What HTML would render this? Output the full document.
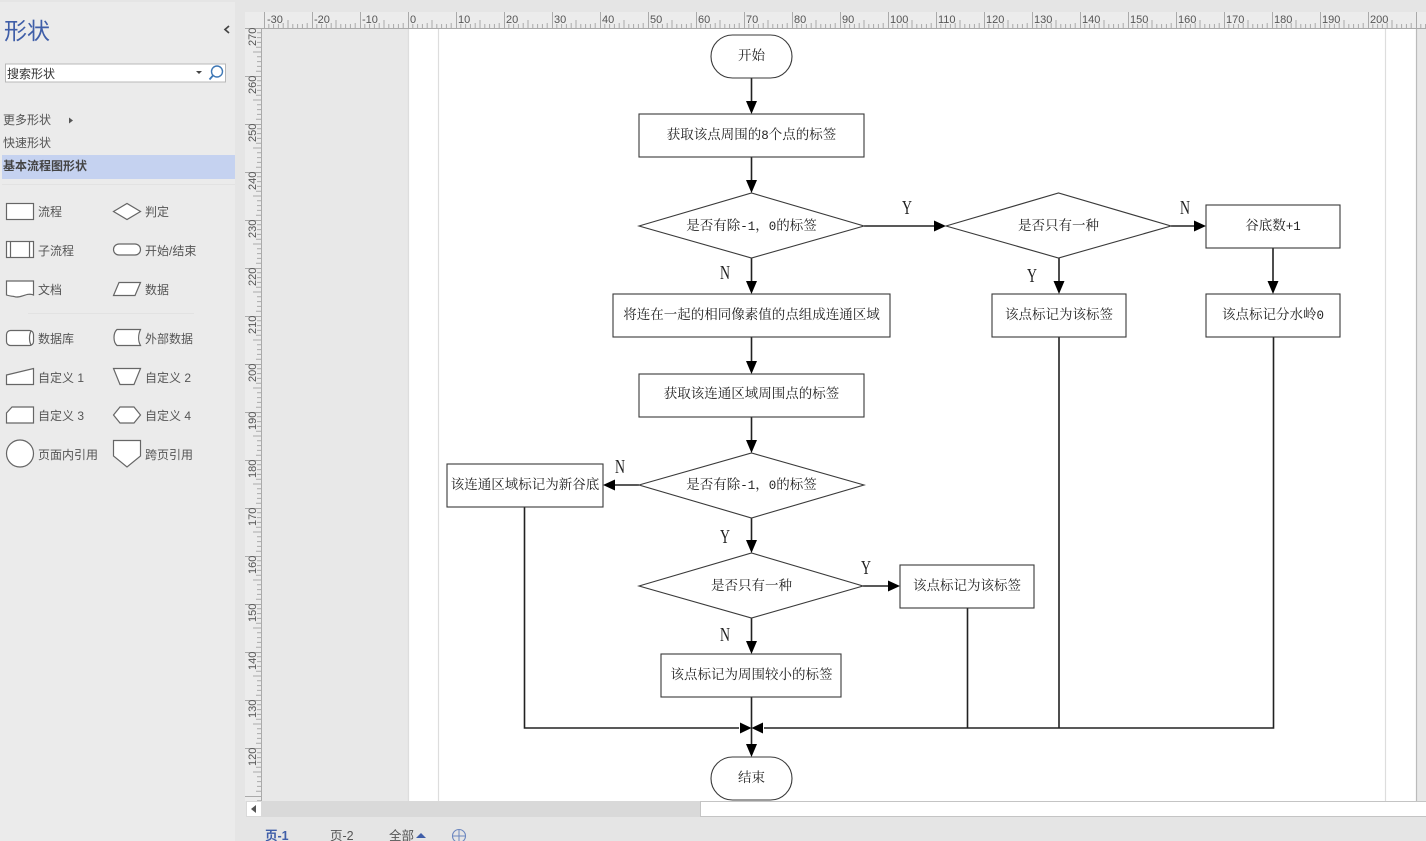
<!DOCTYPE html>
<html><head><meta charset="utf-8">
<style>
html,body{margin:0;padding:0;background:#e6e6e6;width:1426px;height:841px;overflow:hidden}
svg{display:block;filter:blur(0.3px)}
.d text{font-family:"Liberation Serif","Noto Serif CJK SC",serif;font-size:13.5px;fill:#222;text-anchor:middle}
.d text.l{font-size:20px;font-family:"Liberation Serif",serif;fill:#222}
.d tspan{font-family:"Liberation Mono",monospace;font-size:12.5px}
.s{fill:#fff;stroke:#3a3a3a;stroke-width:1.1}
.c{fill:none;stroke:#222;stroke-width:1.6}
.a{fill:#000}
.ui text{font-family:"Liberation Sans","Noto Sans CJK SC",sans-serif;font-size:12px;fill:#555}
.ic{fill:#fff;stroke:#666;stroke-width:1.2}
.rh text{font-family:"Liberation Sans",sans-serif;font-size:11px;fill:#555}
</style></head>
<body>
<svg width="1426" height="841" viewBox="0 0 1426 841" xmlns="http://www.w3.org/2000/svg">
<defs>
<pattern id="hr" x="264" y="12" width="48" height="16" patternUnits="userSpaceOnUse">
<path d="M0.5 0V16M4.8 12V16M9.6 12V16M14.4 12V16M19.2 11V16M24 8V16M28.8 12V16M33.6 12V16M38.4 12V16M43.2 11V16" stroke="#aaa" stroke-width="1" fill="none"/>
</pattern>
<pattern id="vr" x="245" y="28" width="16" height="48" patternUnits="userSpaceOnUse">
<path d="M0 0.5H16M12 4.8H16M12 9.6H16M12 14.4H16M11 19.2H16M8 24H16M12 28.8H16M12 33.6H16M12 38.4H16M11 43.2H16" stroke="#aaa" stroke-width="1" fill="none"/>
</pattern>
</defs>

<!-- backgrounds -->
<rect width="1426" height="841" fill="#e5e5e5"/>
<rect x="0" y="2" width="235" height="839" fill="#ebebeb"/>
<rect x="262" y="28" width="146" height="773" fill="#e8e8e8"/>
<rect x="408" y="28" width="1008" height="773" fill="#fff"/>
<rect x="1416" y="28" width="10" height="773" fill="#e8e8e8"/>
<path d="M408.500 28V801M438.500 28V801M1385.500 28V801" stroke="#ddd" stroke-width="1.2"/>
<path d="M1416.500 28V801" stroke="#bbb" stroke-width="1.2"/>

<!-- rulers -->
<rect x="245" y="12" width="1181" height="16" fill="#ececec"/>
<rect x="245" y="28" width="17" height="773" fill="#ececec"/>
<rect x="262" y="12" width="1164" height="16" fill="url(#hr)"/>
<rect x="245" y="28" width="16" height="773" fill="url(#vr)"/>
<path d="M262 28.500H1426M261.500 28V801" stroke="#aaa" stroke-width="1"/>
<g class="rh">
<text x="267" y="23">-30</text><text x="314" y="23">-20</text><text x="362" y="23">-10</text><text x="410" y="23">0</text><text x="458" y="23">10</text><text x="506" y="23">20</text><text x="554" y="23">30</text><text x="602" y="23">40</text><text x="650" y="23">50</text><text x="698" y="23">60</text><text x="746" y="23">70</text><text x="794" y="23">80</text><text x="842" y="23">90</text><text x="890" y="23">100</text><text x="938" y="23">110</text><text x="986" y="23">120</text><text x="1034" y="23">130</text><text x="1082" y="23">140</text><text x="1130" y="23">150</text><text x="1178" y="23">160</text><text x="1226" y="23">170</text><text x="1274" y="23">180</text><text x="1322" y="23">190</text><text x="1370" y="23">200</text>
<text transform="translate(256,46) rotate(-90)">270</text>
<text transform="translate(256,94) rotate(-90)">260</text>
<text transform="translate(256,142) rotate(-90)">250</text>
<text transform="translate(256,190) rotate(-90)">240</text>
<text transform="translate(256,238) rotate(-90)">230</text>
<text transform="translate(256,286) rotate(-90)">220</text>
<text transform="translate(256,334) rotate(-90)">210</text>
<text transform="translate(256,382) rotate(-90)">200</text>
<text transform="translate(256,430) rotate(-90)">190</text>
<text transform="translate(256,478) rotate(-90)">180</text>
<text transform="translate(256,526) rotate(-90)">170</text>
<text transform="translate(256,574) rotate(-90)">160</text>
<text transform="translate(256,622) rotate(-90)">150</text>
<text transform="translate(256,670) rotate(-90)">140</text>
<text transform="translate(256,718) rotate(-90)">130</text>
<text transform="translate(256,766) rotate(-90)">120</text>
</g>

<!-- scrollbar + tabs -->
<rect x="246" y="801" width="454" height="16" fill="#d9d9d9"/>
<rect x="700.500" y="801.500" width="726" height="15" fill="#fff" stroke="#c4c4c4"/>
<rect x="247" y="802" width="14" height="14" fill="#fff"/>
<path d="M256 805V813L251 809Z" fill="#555"/>
<g class="ui">
<text x="265" y="840" style="font-weight:bold;fill:#3f5ea8;font-size:12.500px">页-1</text>
<text x="330" y="840" style="font-size:12.500px">页-2</text>
<text x="389" y="840" style="font-size:12.500px">全部</text>
</g>
<path d="M416 838L421 833L426 838Z" fill="#3f5ea8"/>
<circle cx="459" cy="836" r="6.500" fill="none" stroke="#6b86bf" stroke-width="1.100"/>
<path d="M453 836H465M459 830V842" stroke="#6b86bf"/>

<!-- sidebar -->
<g class="ui">
<text x="4" y="39" style="font-size:23px;fill:#3f5ea8">形状</text>
<path d="M229 26L225 29.500L229 33" fill="none" stroke="#444" stroke-width="1.700"/>
<rect x="5.500" y="64" width="220" height="18" fill="#fff" stroke="#b8b8b8"/>
<text x="7" y="78" style="fill:#333">搜索形状</text>
<path d="M196 71H202L199 74Z" fill="#444"/>
<circle cx="217" cy="71.500" r="5.500" fill="none" stroke="#3f78b5" stroke-width="1.400"/>
<path d="M213 75.500L209.500 79.500" stroke="#3f78b5" stroke-width="1.800"/>
<text x="3" y="124">更多形状</text>
<path d="M69 117.500V123.500L73 120.500Z" fill="#555"/>
<text x="3" y="147">快速形状</text>
<rect x="2" y="155" width="233" height="24" fill="#c5d2f0"/>
<text x="3" y="170" style="font-weight:bold;fill:#444">基本流程图形状</text>
<path d="M2 184.500H235" stroke="#e2e2e2"/>

<rect class="ic" x="6.500" y="203.500" width="27" height="16"/>
<text x="38" y="216">流程</text>
<path class="ic" d="M113.500 211.500L127 203.500L140.500 211.500L127 219.500Z"/>
<text x="145" y="216">判定</text>

<rect class="ic" x="6.500" y="241.500" width="27" height="16"/>
<path class="ic" d="M10.500 241.500V257.500M29.500 241.500V257.500"/>
<text x="38" y="255">子流程</text>
<rect class="ic" x="113.500" y="244" width="27" height="11" rx="5.500"/>
<text x="145" y="255">开始/结束</text>

<path class="ic" d="M6.500 281H33.500V295C27 292 20 299 14 296.500C11 296 9 296 6.500 295Z"/>
<text x="38" y="294">文档</text>
<path class="ic" d="M119 282.500H140.500L135 295.500H113.500Z"/>
<text x="145" y="294">数据</text>
<path d="M28 313.500H194" stroke="#e2e2e2"/>

<rect class="ic" x="6.500" y="330.500" width="27" height="15" rx="4"/>
<path class="ic" d="M31 331C29 335 29 341 31 345" fill="none"/>
<text x="38" y="343">数据库</text>
<path class="ic" d="M117 329.500H140.500C138 335 138 341 140.500 345.500H117C113 342 113 333 117 329.500Z"/>
<text x="145" y="343">外部数据</text>

<path class="ic" d="M6.500 375L33.500 368.500V384.500H6.500Z"/>
<text x="38" y="382">自定义 1</text>
<path class="ic" d="M113.500 368.500H140.500L134 384.500H120Z"/>
<text x="145" y="382">自定义 2</text>

<path class="ic" d="M12 407H33.500V423H6.500V413Z"/>
<text x="38" y="420">自定义 3</text>
<path class="ic" d="M120 407H134L140.500 415L134 423H120L113.500 415Z"/>
<text x="145" y="420">自定义 4</text>

<circle class="ic" cx="20" cy="453.500" r="13.500"/>
<text x="38" y="459">页面内引用</text>
<path class="ic" d="M113.500 440.500H140.500V456L127 467L113.500 456Z"/>
<text x="145" y="459">跨页引用</text>
</g>

<!-- diagram -->
<g class="d">
<!-- connectors -->
<path class="c" d="M751.500 78V102M751.500 157V181M751.500 258V282M751.500 337V362M751.500 417V441M751.500 518V541M751.500 618V642M751.500 697V745"/>
<path class="c" d="M864 226H934M1171 226H1194M1059 258V282M1273 248V282M639 485H615M863 586H888"/>
<path class="c" d="M524.500 507V728H739M1273.500 337V728H764M1059 337V728M967.500 608V728"/>
<!-- arrowheads -->
<g class="a">
<path d="M746 101H757L751.500 114Z"/>
<path d="M746 180H757L751.500 193Z"/>
<path d="M746 281H757L751.500 294Z"/>
<path d="M746 361H757L751.500 374Z"/>
<path d="M746 440H757L751.500 453Z"/>
<path d="M746 540H757L751.500 553Z"/>
<path d="M746 641H757L751.500 654Z"/>
<path d="M746 744H757L751.500 757Z"/>
<path d="M1053.500 281H1064.500L1059 294Z"/>
<path d="M1267.500 281H1278.500L1273 294Z"/>
<path d="M934 220.500V231.500L946 226Z"/>
<path d="M1194 220.500V231.500L1206 226Z"/>
<path d="M888 580.500V591.500L900 586Z"/>
<path d="M615 479.500V490.500L603 485Z"/>
<path d="M740 722.500V733.500L751.500 728Z"/>
<path d="M763 722.500V733.500L751.500 728Z"/>
</g>
<!-- shapes -->
<rect class="s" x="711" y="35" width="81" height="43" rx="21.500"/>
<rect class="s" x="711" y="757" width="81" height="43" rx="21.500"/>
<rect class="s" x="639" y="114" width="225" height="43"/>
<path class="s" d="M639 226L751.500 193L864 226L751.500 258Z"/>
<path class="s" d="M946 226L1058.500 193L1171 226L1058.500 258Z"/>
<rect class="s" x="1206" y="205" width="134" height="43"/>
<rect class="s" x="992" y="294" width="134" height="43"/>
<rect class="s" x="1206" y="294" width="134" height="43"/>
<rect class="s" x="613" y="294" width="277" height="43"/>
<rect class="s" x="639" y="374" width="225" height="43"/>
<path class="s" d="M639 485L751.500 453L864 485L751.500 518Z"/>
<rect class="s" x="447" y="464" width="156" height="43"/>
<path class="s" d="M639 586L751.500 553L863 586L751.500 618Z"/>
<rect class="s" x="900" y="565" width="134" height="43"/>
<rect class="s" x="661" y="654" width="180" height="43"/>
<!-- labels -->
<text x="751.500" y="60">开始</text>
<text x="751.500" y="139">获取该点周围的<tspan>8</tspan>个点的标签</text>
<text x="751.500" y="230">是否有除<tspan>-1</tspan>，<tspan>0</tspan>的标签</text>
<text x="1058.500" y="230">是否只有一种</text>
<text x="1273" y="230">谷底数<tspan>+1</tspan></text>
<text x="1059" y="319">该点标记为该标签</text>
<text x="1273" y="319">该点标记分水岭<tspan>0</tspan></text>
<text x="751.500" y="319">将连在一起的相同像素值的点组成连通区域</text>
<text x="751.500" y="398">获取该连通区域周围点的标签</text>
<text x="751.500" y="489">是否有除<tspan>-1</tspan>，<tspan>0</tspan>的标签</text>
<text x="525" y="489">该连通区域标记为新谷底</text>
<text x="751.500" y="590">是否只有一种</text>
<text x="967" y="590">该点标记为该标签</text>
<text x="751.500" y="679">该点标记为周围较小的标签</text>
<text x="751.500" y="782">结束</text>
<text class="l" x="907" y="214" textLength="10" lengthAdjust="spacingAndGlyphs">Y</text>
<text class="l" x="725" y="279" textLength="10" lengthAdjust="spacingAndGlyphs">N</text>
<text class="l" x="1185" y="214" textLength="10" lengthAdjust="spacingAndGlyphs">N</text>
<text class="l" x="1032" y="282" textLength="10" lengthAdjust="spacingAndGlyphs">Y</text>
<text class="l" x="620" y="473" textLength="10" lengthAdjust="spacingAndGlyphs">N</text>
<text class="l" x="725" y="543" textLength="10" lengthAdjust="spacingAndGlyphs">Y</text>
<text class="l" x="866" y="574" textLength="10" lengthAdjust="spacingAndGlyphs">Y</text>
<text class="l" x="725" y="641" textLength="10" lengthAdjust="spacingAndGlyphs">N</text>
</g>
</svg>
</body></html>
